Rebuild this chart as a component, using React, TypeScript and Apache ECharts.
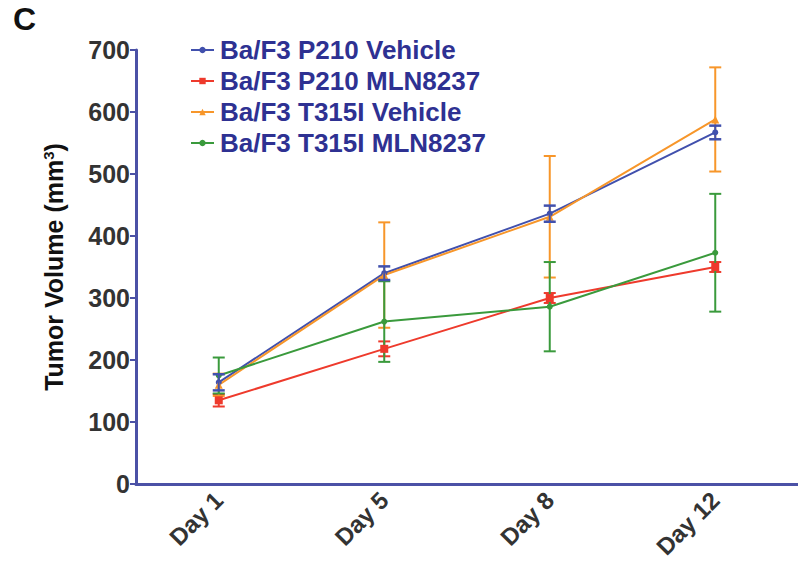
import React, { useEffect, useRef } from "react";
import * as echarts from "echarts";

const categories = ["Day 1", "Day 5", "Day 8", "Day 12"];
const seriesNames = [
  "Ba/F3 P210 Vehicle",
  "Ba/F3 P210 MLN8237",
  "Ba/F3 T315I Vehicle",
  "Ba/F3 T315I MLN8237",
];
const p210Vehicle = [164, 340, 436, 567];
const p210VehicleErr = [13, 11, 13, 11];
const p210Mln = [135, 218, 300, 350];
const p210MlnErr = [10, 12, 8, 8];
const t315Vehicle = [160, 337, 431, 588];
const t315VehicleErr = [18, 85, 98, 84];
const t315Mln = [175, 262, 286, 373];
const t315MlnErr = [29, 65, 72, 95];
const yTicks = [0, 100, 200, 300, 400, 500, 600, 700];

const colors = ["#4150ad", "#ee3a2c", "#f7962a", "#3a9a3c"];
const symbols = ["circle", "rect", "triangle", "circle"];
const symbolSizes = [6, 8, 8, 6];
const capWidths = [2.5, 2, 2, 2];
const FONT = "'Liberation Sans', Arial, Helvetica, sans-serif";

export default function App() {
  const ref = useRef<HTMLDivElement>(null);
  useEffect(() => {
    document.body.style.margin = "0";
    if (!ref.current) return;
    const chart = echarts.init(ref.current, undefined, { renderer: "svg" });
    const means = [p210Vehicle, p210Mln, t315Vehicle, t315Mln];
    const errs = [p210VehicleErr, p210MlnErr, t315VehicleErr, t315MlnErr];

    const errSeries = means.map((m, si) => ({
      type: "custom",
      name: seriesNames[si] + " err",
      data: m.map((v, i) => [i, v - errs[si][i], v + errs[si][i]]),
      z: si === 0 ? 4 : 2,
      silent: true,
      renderItem: (params: any, api: any) => {
        const x = api.value(0);
        const lo = api.coord([x, api.value(1)]);
        const hi = api.coord([x, api.value(2)]);
        const hw = 6;
        const style = { stroke: colors[si], lineWidth: 2 };
        const cap = { stroke: colors[si], lineWidth: capWidths[si] };
        return {
          type: "group",
          children: [
            { type: "line", shape: { x1: lo[0], y1: lo[1], x2: hi[0], y2: hi[1] }, style },
            { type: "line", shape: { x1: lo[0] - hw, y1: lo[1], x2: lo[0] + hw, y2: lo[1] }, style: cap },
            { type: "line", shape: { x1: hi[0] - hw, y1: hi[1], x2: hi[0] + hw, y2: hi[1] }, style: cap },
          ],
        };
      },
    }));

    const lineSeries = means.map((m, si) => ({
      type: "line",
      name: seriesNames[si],
      data: m,
      symbol: symbols[si],
      symbolSize: symbolSizes[si],
      showAllSymbol: true,
      lineStyle: { color: colors[si], width: 2 },
      itemStyle: { color: colors[si] },
      z: 3,
    }));

    chart.setOption({
      animation: false,
      backgroundColor: "#ffffff",
      graphic: [
        {
          type: "text",
          left: 13,
          top: 3,
          style: { text: "C", font: `bold 32px ${FONT}`, fill: "#111" },
        },
      ],
      legend: {
        data: seriesNames,
        orient: "vertical",
        left: 185,
        top: 32,
        itemWidth: 23,
        itemHeight: 8,
        itemGap: 5,
        textStyle: {
          color: "#2e3192",
          fontWeight: "bold",
          fontSize: 26,
          fontFamily: FONT,
          padding: [0, 0, 0, 1],
        },
      },
      grid: { left: 136, top: 50, width: 671, height: 434 },
      xAxis: {
        type: "category",
        data: categories,
        boundaryGap: true,
        axisLine: { lineStyle: { color: "#4b51a6", width: 3 } },
        axisTick: { alignWithLabel: true, length: 6, lineStyle: { color: "#4b51a6", width: 2 } },
        axisLabel: {
          rotate: 45,
          margin: 12,
          color: "#333",
          fontWeight: "bold",
          fontSize: 24,
          fontFamily: FONT,
        },
      },
      yAxis: {
        type: "value",
        min: yTicks[0],
        max: yTicks[yTicks.length - 1],
        interval: 100,
        name: "{a|Tumor Volume (mm}{s|3}{a|)}",
        nameLocation: "middle",
        nameGap: 70,
        nameRotate: 90,
        nameTextStyle: {
          rich: {
            a: { fontWeight: "bold", fontSize: 25, fontFamily: FONT, color: "#111" },
            s: { fontWeight: "bold", fontSize: 15, fontFamily: FONT, color: "#111", verticalAlign: "top", padding: [0, 0, 10, 0] },
          },
        },
        splitLine: { show: false },
        axisLine: { show: true, lineStyle: { color: "#4b51a6", width: 3 } },
        axisTick: { show: true, length: 6, lineStyle: { color: "#4b51a6", width: 2 } },
        axisLabel: {
          margin: 6,
          color: "#333",
          fontWeight: "bold",
          fontSize: 25,
          fontFamily: FONT,
        },
      },
      series: [...errSeries, ...lineSeries],
    });
    return () => chart.dispose();
  }, []);
  return <div ref={ref} style={{ width: 798, height: 568 }} />;
}
